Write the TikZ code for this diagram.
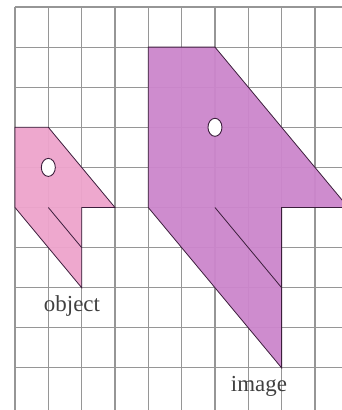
\documentclass[tikz,border=0pt]{standalone}
\usepackage{fontspec}
\setmainfont{Liberation Serif}
\definecolor{gridgray}{RGB}{150,150,150}
\definecolor{objpink}{RGB}{238,164,204}
\definecolor{imgpurple}{RGB}{204,134,204}
\definecolor{edgedark}{RGB}{60,30,60}
\tikzset{
  gridline/.style={draw=gridgray, line width=1.1bp},
  shapefill/.style={draw=edgedark, line width=0.8bp, fill opacity=0.95, line join=miter},
  crease/.style={draw=edgedark, line width=0.8bp},
  hole/.style={draw=edgedark, fill=white, line width=0.9bp},
  lbl/.style={inner sep=0pt, font=\fontsize{23}{26}\selectfont, text=black!75}
}
\begin{document}
\begin{tikzpicture}[x=33.33bp, y=-40.1bp]
\useasboundingbox (-0.45,-0.1746) rectangle (9.81,10.05);
\fill[white] (-0.45,-0.1746) rectangle (9.81,10.05);
% grid
\foreach \c in {0,...,9} \draw[gridline] (\c,0) -- (\c,10.05);
\foreach \r in {0,...,9} \draw[gridline] (0,\r) -- (9.81,\r);
% object
\filldraw[shapefill, fill=objpink] (0,3) -- (1,3) -- (3,5) -- (2,5) -- (2,7) -- (0,5) -- cycle;
\draw[crease] (1,5) -- (2,6);
\draw[hole] (1,4) ellipse [x radius=7bp, y radius=9bp];
% image
\begin{scope}
\clip (-0.45,-0.1746) rectangle (9.81,10.05);
\filldraw[shapefill, fill=imgpurple] (4,1) -- (6,1) -- (10,5) -- (8,5) -- (8,9) -- (4,5) -- cycle;
\end{scope}
\draw[crease] (6,5) -- (8,7);
\draw[hole] (6,3) ellipse [x radius=7bp, y radius=9bp];
% labels
\node[lbl] (objlabel) at (1.71,7.45) {object};
\node[lbl] (imglabel) at (7.32,9.45) {image};
\end{tikzpicture}
\end{document}
